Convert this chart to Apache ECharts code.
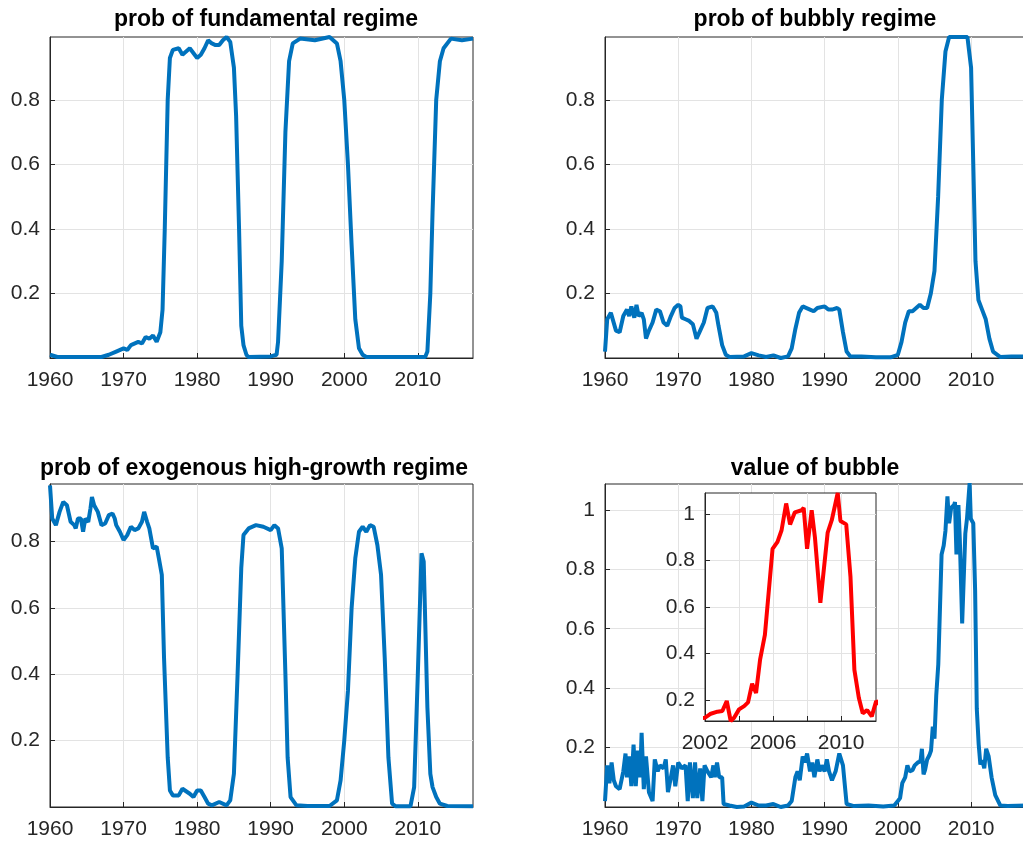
<!DOCTYPE html>
<html>
<head>
<meta charset="utf-8">
<script src="https://cdn.jsdelivr.net/npm/echarts@6/dist/echarts.min.js"></script>
<style>
html,body{margin:0;padding:0;overflow:hidden;background:#fff}
#main{width:1030px;height:846px}
</style>
</head>
<body>
<div id="main"></div>
<script>
// tick labels
var yearTicks = [1960, 1970, 1980, 1990, 2000, 2010];
var insetYearTicks = [2002, 2006, 2010];
var insetYearGrid = [2002, 2004, 2006, 2008, 2010];
var probTicks = [0.2, 0.4, 0.6, 0.8];
var bubbleTicks = [0.2, 0.4, 0.6, 0.8, 1];

// prob of fundamental regime
var fundYears = [1960,1961,1967,1968,1969,1970,1970.5,1971,1972,1972.5,1973,1973.5,1974,1974.5,1975,1975.3,1975.6,1976,1976.3,1976.7,1977.5,1978,1979,1980,1980.5,1981,1981.5,1982,1982.5,1983,1983.5,1984,1984.5,1985,1985.3,1985.7,1986,1986.3,1986.7,1987,1990,1990.8,1991,1991.5,1992,1992.5,1993,1994,1996,1998,1999,1999.5,2000,2000.5,2001,2001.5,2002,2002.5,2003,2011,2011.3,2011.7,2012,2012.5,2013,2013.5,2014.5,2016,2017.5];
var fundVals = [0.01,0.003,0.003,0.01,0.02,0.03,0.025,0.04,0.05,0.045,0.065,0.06,0.07,0.05,0.08,0.15,0.4,0.8,0.93,0.955,0.96,0.94,0.96,0.93,0.94,0.96,0.985,0.975,0.97,0.97,0.985,0.995,0.98,0.9,0.75,0.4,0.1,0.04,0.01,0.003,0.005,0.01,0.05,0.3,0.7,0.92,0.975,0.99,0.985,0.995,0.975,0.92,0.8,0.6,0.35,0.12,0.03,0.01,0.003,0.003,0.02,0.2,0.45,0.8,0.92,0.96,0.99,0.985,0.99];

// prob of bubbly regime
var bubYears = [1960,1960.3,1960.8,1961.5,1962,1962.5,1963,1963.3,1963.6,1964,1964.3,1964.6,1965,1965.3,1965.6,1966,1966.5,1967,1967.5,1968,1968.5,1969,1969.5,1970,1970.3,1970.5,1971,1971.5,1972,1972.5,1973,1973.5,1974,1974.7,1975.2,1975.5,1976,1976.5,1977,1979,1980,1981,1982,1983,1984,1985,1985.5,1986,1986.5,1987,1988,1988.5,1989,1990,1990.5,1991,1991.7,1992,1992.5,1993,1993.5,1995,1997,1999,2000,2000.5,2001,2001.5,2002,2003,2003.5,2004,2004.5,2005,2005.5,2006,2006.5,2007,2009.5,2010,2010.3,2010.6,2011,2011.5,2012,2012.5,2013,2014,2015.5,2017.5];
var bubVals = [0.02,0.12,0.14,0.085,0.08,0.13,0.15,0.13,0.16,0.125,0.165,0.13,0.14,0.12,0.06,0.085,0.11,0.15,0.145,0.11,0.1,0.13,0.155,0.165,0.16,0.125,0.12,0.115,0.105,0.06,0.085,0.11,0.155,0.16,0.14,0.1,0.04,0.01,0.003,0.005,0.015,0.008,0.003,0.008,0.0,0.005,0.03,0.09,0.14,0.16,0.15,0.145,0.155,0.16,0.15,0.15,0.155,0.15,0.08,0.02,0.005,0.005,0.002,0.002,0.01,0.05,0.11,0.145,0.145,0.165,0.155,0.155,0.2,0.27,0.5,0.8,0.95,0.995,0.995,0.9,0.6,0.3,0.18,0.15,0.12,0.06,0.02,0.003,0.005,0.005];

// prob of exogenous high-growth regime
var exoYears = [1960,1960.3,1960.8,1961.3,1961.8,1962.3,1962.8,1963.3,1963.5,1963.8,1964.2,1964.5,1964.8,1965.2,1965.5,1965.7,1966,1966.5,1967,1967.5,1968,1968.5,1968.8,1969,1969.5,1970,1970.5,1971,1971.5,1972,1972.5,1972.8,1973.2,1973.5,1974,1974.5,1974.8,1975.2,1975.5,1976,1976.3,1976.7,1977.5,1978,1979,1979.5,1980,1980.5,1981,1981.5,1982,1983,1984,1984.5,1985,1985.5,1986,1986.3,1987,1988,1989,1990,1990.5,1991,1991.5,1992,1992.3,1992.7,1993.5,1995,1998,1999,1999.5,2000,2000.5,2001,2001.5,2002,2002.5,2003,2003.5,2004,2004.5,2005,2005.5,2006,2006.5,2007,2009,2009.5,2010,2010.5,2010.8,2011.3,2011.7,2012,2012.5,2013,2014,2017.5];
var exoVals = [0.97,0.87,0.85,0.89,0.92,0.91,0.86,0.85,0.84,0.87,0.87,0.83,0.87,0.86,0.9,0.935,0.91,0.89,0.85,0.855,0.88,0.885,0.87,0.85,0.83,0.805,0.82,0.845,0.835,0.84,0.86,0.89,0.86,0.84,0.78,0.785,0.75,0.7,0.45,0.15,0.05,0.035,0.035,0.055,0.04,0.03,0.05,0.05,0.03,0.01,0.005,0.015,0.005,0.02,0.1,0.4,0.72,0.82,0.84,0.85,0.845,0.835,0.85,0.84,0.78,0.4,0.15,0.03,0.005,0.003,0.003,0.02,0.08,0.2,0.35,0.6,0.75,0.83,0.845,0.83,0.85,0.845,0.79,0.7,0.45,0.15,0.01,0.002,0.002,0.06,0.4,0.765,0.74,0.3,0.1,0.06,0.03,0.01,0.003,0.002];

// value of bubble
var valYears = [1960,1960.3,1960.6,1960.9,1961.2,1961.5,1962,1962.5,1962.8,1963,1963.3,1963.6,1963.9,1964.2,1964.5,1964.8,1965,1965.3,1965.6,1966,1966.5,1966.8,1967.2,1967.5,1968,1968.3,1968.6,1969,1969.3,1969.6,1970,1970.5,1971,1971.3,1971.6,1972,1972.3,1972.6,1973,1973.3,1973.6,1974,1974.5,1974.8,1975,1975.3,1975.6,1976,1976.2,1977,1978,1979,1980,1981,1982,1983,1984,1985,1985.5,1986,1986.3,1986.6,1987,1987.3,1987.6,1988,1988.3,1988.6,1989,1989.3,1989.6,1990,1990.3,1990.6,1991,1991.5,1992,1992.5,1993,1994,1996,1998,1999.5,2000,2000.3,2000.6,2001,2001.3,2001.6,
  2002,2002.3,2002.73,2003.02,2003.12,2003.28,2003.51,2003.71,2004,2004.3,2004.53,2004.77,2005,2005.24,2005.52,2005.97,2006.26,2006.5,2006.77,2007,2007.28,2007.68,2007.8,2008,2008.27,2008.46,2008.78,2009.21,2009.45,2009.8,2009.96,2010.3,2010.55,2010.78,2011.04,2011.27,2011.53,2011.8,2012.06,
  2012.4,2012.8,2013.3,2014,2015,2017.5];
var valVals = [0.02,0.14,0.08,0.15,0.09,0.07,0.06,0.12,0.18,0.1,0.17,0.07,0.21,0.07,0.19,0.1,0.25,0.06,0.17,0.05,0.02,0.16,0.12,0.14,0.13,0.16,0.05,0.1,0.14,0.07,0.15,0.13,0.14,0.02,0.15,0.03,0.15,0.03,0.13,0.02,0.14,0.12,0.1,0.14,0.1,0.15,0.1,0.1,0.01,0.005,0.0,0.002,0.015,0.005,0.005,0.01,0.0,0.005,0.02,0.1,0.12,0.09,0.17,0.15,0.18,0.12,0.15,0.1,0.16,0.12,0.14,0.12,0.16,0.12,0.09,0.12,0.18,0.14,0.01,0.003,0.005,0.002,0.005,0.02,0.03,0.08,0.1,0.14,0.12,
  0.124,0.14,0.15,0.153,0.16,0.196,0.11,0.124,0.16,0.174,0.19,0.27,0.23,0.375,0.48,0.85,0.88,0.93,1.045,0.955,1.007,1.016,1.026,0.85,1.016,0.9,0.618,0.92,0.973,1.09,0.97,0.955,0.73,0.33,0.21,0.143,0.157,0.13,0.196,
  0.17,0.1,0.04,0.005,0.003,0.005];

function zip(xs, ys) {
  var out = [];
  for (var i = 0; i < xs.length; i++) out.push([xs[i], ys[i]]);
  return out;
}

var FONT = 'Liberation Sans';
var INK = '#262626';
var BLUE = '#0072BD';

var grids = [
  {left: 50, top: 37, width: 423, height: 321},
  {left: 605, top: 37, width: 421, height: 321},
  {left: 50, top: 484, width: 423, height: 323},
  {left: 605, top: 484, width: 421, height: 323},
  {left: 705, top: 493, width: 171, height: 228, z: 10}
];
grids.forEach(function (g) {
  g.show = true;
  g.borderColor = INK;
  g.borderWidth = 1;
  g.backgroundColor = '#fff';
  g.containLabel = false;
});

function xAxis(idx, min, max, ticks, labels) {
  return {
    type: 'value', gridIndex: idx, min: min, max: max,
    z: idx == 4 ? 11 : 2,
    axisLine: {show: true, lineStyle: {color: INK}},
    axisTick: {show: true, inside: true, length: 5, lineStyle: {color: INK}, customValues: ticks},
    axisLabel: {color: INK, fontFamily: FONT, fontSize: 21, margin: 12, customValues: labels || ticks,
      formatter: function (v) { return String(v); }},
    splitLine: {show: true, lineStyle: {color: '#e3e3e3'}}
  };
}
function yAxis(idx, min, max, ticks) {
  return {
    type: 'value', gridIndex: idx, min: min, max: max,
    z: idx == 4 ? 11 : 2,
    axisLine: {show: true, lineStyle: {color: INK}},
    axisTick: {show: true, inside: true, length: 5, lineStyle: {color: INK}, customValues: ticks},
    axisLabel: {color: INK, fontFamily: FONT, fontSize: 21, margin: 10, customValues: ticks,
      formatter: function (v) { return String(+v.toFixed(1)); }},
    splitLine: {show: true, lineStyle: {color: '#e3e3e3'}}
  };
}

function title(text, x, y) {
  return {text: text, left: x, top: y, textAlign: 'center',
    textStyle: {fontFamily: FONT, fontSize: 23, fontWeight: 'bold', color: '#000'}};
}

function line(idx, data, color, width) {
  return {type: 'line', xAxisIndex: idx, yAxisIndex: idx, data: data, showSymbol: false,
    z: idx == 4 ? 12 : 3, clip: true,
    lineStyle: {color: color, width: width}, animation: false};
}

var chart = echarts.init(document.getElementById('main'));
chart.setOption({
  animation: false,
  title: [
    title('prob of fundamental regime', 261, 3),
    title('prob of bubbly regime', 810, 3),
    title('prob of exogenous high-growth regime', 249, 452),
    title('value of bubble', 810, 452)
  ],
  grid: grids,
  xAxis: [
    xAxis(0, 1960, 2017.5, yearTicks),
    xAxis(1, 1960, 2017.5, yearTicks),
    xAxis(2, 1960, 2017.5, yearTicks),
    xAxis(3, 1960, 2017.5, yearTicks),
    xAxis(4, 2002, 2012.05, insetYearGrid, insetYearTicks)
  ],
  yAxis: [
    yAxis(0, 0, 0.995, probTicks),
    yAxis(1, 0, 0.995, probTicks),
    yAxis(2, 0, 0.974, probTicks),
    yAxis(3, 0, 1.087, bubbleTicks),
    yAxis(4, 0.11, 1.09, bubbleTicks)
  ],
  series: [
    line(0, zip(fundYears, fundVals), BLUE, 4),
    line(1, zip(bubYears, bubVals), BLUE, 4),
    line(2, zip(exoYears, exoVals), BLUE, 4),
    line(3, zip(valYears, valVals), BLUE, 4),
    line(4, zip(valYears, valVals), '#ff0000', 4)
  ]
});
</script>
</body>
</html>
